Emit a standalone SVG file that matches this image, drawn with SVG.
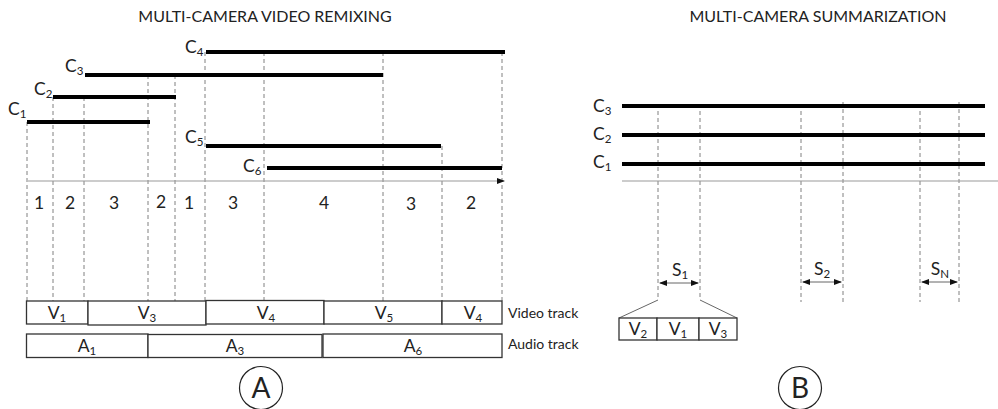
<svg xmlns="http://www.w3.org/2000/svg" width="998" height="409" viewBox="0 0 998 409">
<defs>
<marker id="ah" markerWidth="8" markerHeight="6" refX="7" refY="3" orient="auto" markerUnits="userSpaceOnUse">
<path d="M0,0 L8,3 L0,6 Z" fill="#111"/>
</marker>
<marker id="ahs" markerWidth="8" markerHeight="6" refX="7" refY="3" orient="auto-start-reverse" markerUnits="userSpaceOnUse">
<path d="M0,0 L8,3 L0,6 Z" fill="#111"/>
</marker>
</defs>
<style>
text{font-family:Lato,"Open Sans",sans-serif;fill:#222}
.title{font-size:16px;text-anchor:middle}
.cl{font-size:17.5px}
.num{font-size:17.5px;text-anchor:middle}
.bl{font-size:17.5px;text-anchor:middle}
.sub{font-size:11.5px}
.tr{font-size:14px}
.big{font-size:28px;text-anchor:middle}
.bar{stroke:#000;stroke-width:4;fill:none}
.dash{stroke:#808080;stroke-width:1;stroke-dasharray:4,3;fill:none}
.axis{stroke:#999;stroke-width:1.2;fill:none}
.box{fill:#fff;stroke:#333;stroke-width:1.3}
.thin{stroke:#666;stroke-width:1;fill:none}
.circ{fill:none;stroke:#222;stroke-width:1.2}
</style>

<text class="title" x="265" y="22">MULTI-CAMERA VIDEO REMIXING</text>
<text class="title" x="818" y="22">MULTI-CAMERA SUMMARIZATION</text>

<g id="connectors">
<path class="dash" d="M27,122V301 M53,97V301 M84,97V301 M148,75V301 M175,75V301 M205,52V301 M264,52V301 M383,52V301 M442,146V301 M502,52V301"/>
<path class="axis" d="M28,181H504" marker-end="url(#ah)"/>
<path class="dash" d="M658,104V300 M700,104V300 M801,104V302 M843,102V302 M920,104V302 M959,102V302"/>
<path class="axis" d="M622,181H998"/>
<path class="thin" d="M660,283H698" marker-start="url(#ahs)" marker-end="url(#ahs)"/>
<path class="thin" d="M803,282H841" marker-start="url(#ahs)" marker-end="url(#ahs)"/>
<path class="thin" d="M922,282H957" marker-start="url(#ahs)" marker-end="url(#ahs)"/>
<path class="thin" d="M658,300L619,318 M700,300L737,318"/>
</g>

<g id="cameras-a">
<line class="bar" x1="27" y1="122" x2="150" y2="122"/>
<line class="bar" x1="53" y1="97" x2="176" y2="97"/>
<line class="bar" x1="85" y1="75" x2="383" y2="75"/>
<line class="bar" x1="206" y1="52" x2="505" y2="52"/>
<line class="bar" x1="206" y1="146" x2="441" y2="146"/>
<line class="bar" x1="267" y1="168" x2="502" y2="168"/>
<text class="cl" x="8" y="115">C<tspan class="sub" dy="3">1</tspan></text>
<text class="cl" x="34" y="95">C<tspan class="sub" dy="3">2</tspan></text>
<text class="cl" x="65" y="72">C<tspan class="sub" dy="3">3</tspan></text>
<text class="cl" x="185" y="53">C<tspan class="sub" dy="3">4</tspan></text>
<text class="cl" x="185" y="143">C<tspan class="sub" dy="3">5</tspan></text>
<text class="cl" x="243" y="172">C<tspan class="sub" dy="3">6</tspan></text>
</g>

<g id="segments-a">
<text class="num" x="39" y="209">1</text>
<text class="num" x="70" y="209">2</text>
<text class="num" x="114" y="209">3</text>
<text class="num" x="161" y="208">2</text>
<text class="num" x="189" y="209">1</text>
<text class="num" x="233" y="209">3</text>
<text class="num" x="324" y="209">4</text>
<text class="num" x="411" y="210">3</text>
<text class="num" x="471" y="209">2</text>
</g>

<g id="video-track">
<rect class="box" x="26.5" y="301" width="61.5" height="23"/>
<rect class="box" x="88" y="301" width="118" height="24"/>
<rect class="box" x="206" y="300.5" width="118" height="23.5"/>
<rect class="box" x="324" y="301" width="118" height="23"/>
<rect class="box" x="442" y="301" width="60" height="23"/>
<text class="bl" x="57" y="319">V<tspan class="sub" dy="3">1</tspan></text>
<text class="bl" x="147" y="319">V<tspan class="sub" dy="3">3</tspan></text>
<text class="bl" x="266" y="319">V<tspan class="sub" dy="3">4</tspan></text>
<text class="bl" x="384" y="319">V<tspan class="sub" dy="3">5</tspan></text>
<text class="bl" x="473" y="319">V<tspan class="sub" dy="3">4</tspan></text>
<text class="tr" x="508" y="318">Video track</text>
</g>

<g id="audio-track">
<rect class="box" x="26.5" y="334" width="121.5" height="23.5"/>
<rect class="box" x="148" y="334.5" width="174" height="23"/>
<rect class="box" x="323" y="334" width="179" height="23.5"/>
<text class="bl" x="87" y="352">A<tspan class="sub" dy="3">1</tspan></text>
<text class="bl" x="235" y="352">A<tspan class="sub" dy="3">3</tspan></text>
<text class="bl" x="413" y="352">A<tspan class="sub" dy="3">6</tspan></text>
<text class="tr" x="508" y="349">Audio track</text>
</g>

<g id="label-a">
<circle class="circ" cx="261" cy="388" r="21.5"/>
<text class="big" x="261" y="398">A</text>
</g>

<g id="cameras-b">
<line class="bar" x1="622" y1="106" x2="985" y2="106"/>
<line class="bar" x1="622" y1="135" x2="985" y2="135"/>
<line class="bar" x1="622" y1="164" x2="985" y2="164"/>
<text class="cl" x="593" y="112">C<tspan class="sub" dy="3">3</tspan></text>
<text class="cl" x="593" y="140">C<tspan class="sub" dy="3">2</tspan></text>
<text class="cl" x="593" y="168">C<tspan class="sub" dy="3">1</tspan></text>
</g>

<g id="summaries-b">
<text class="bl" x="680" y="276">S<tspan class="sub" dy="3">1</tspan></text>
<text class="bl" x="822" y="275">S<tspan class="sub" dy="3">2</tspan></text>
<text class="bl" x="940" y="275">S<tspan class="sub" dy="3">N</tspan></text>
</g>

<g id="summary-track">
<rect class="box" x="619" y="318" width="38" height="22"/>
<rect class="box" x="657" y="318" width="42" height="22"/>
<rect class="box" x="699" y="318" width="38" height="22"/>
<text class="bl" x="638" y="335">V<tspan class="sub" dy="3">2</tspan></text>
<text class="bl" x="678" y="335">V<tspan class="sub" dy="3">1</tspan></text>
<text class="bl" x="718" y="335">V<tspan class="sub" dy="3">3</tspan></text>
</g>

<g id="label-b">
<circle class="circ" cx="800" cy="388" r="21.5"/>
<text class="big" x="800" y="398">B</text>
</g>
</svg>
